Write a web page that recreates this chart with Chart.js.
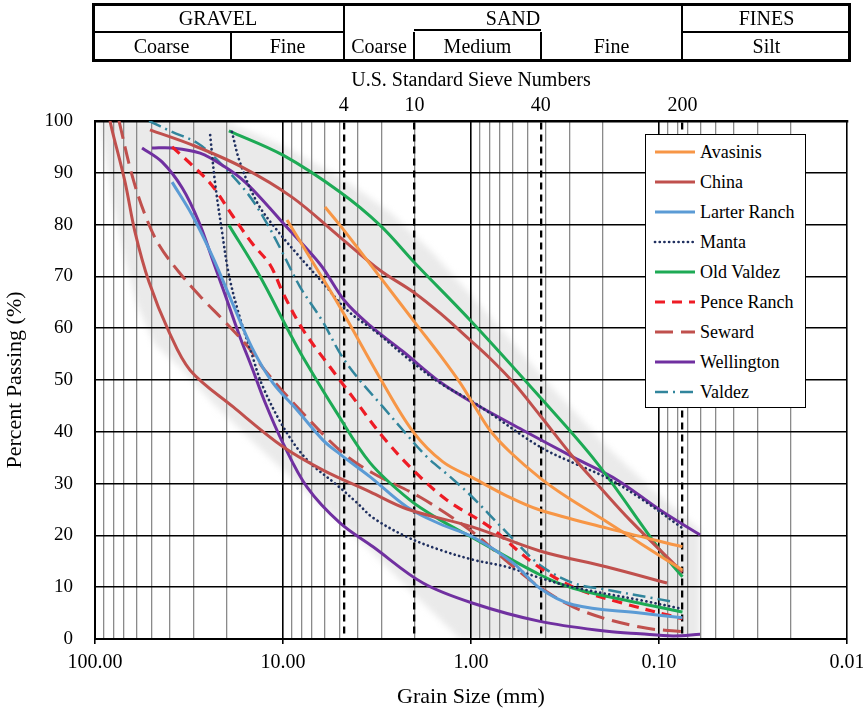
<!DOCTYPE html>
<html><head><meta charset="utf-8">
<script src="https://cdn.jsdelivr.net/npm/chart.js@4.4.0/dist/chart.umd.min.js"></script>
<style>
html,body{margin:0;padding:0;background:#fff;}
#wrap{position:relative;width:863px;height:715px;overflow:hidden;font-family:"Liberation Serif","Times New Roman",serif;color:#000;}
canvas{position:absolute;left:0;top:0;}
.cell{position:absolute;display:flex;align-items:center;justify-content:center;font-size:20px;line-height:20px;white-space:nowrap;}
.hl{position:absolute;background:#000;}
#legend{position:absolute;left:645px;top:134px;width:161px;height:274px;border:1.5px solid #000;background:#fff;box-sizing:border-box;font-size:18px;}
.li{position:absolute;left:0;height:30px;display:flex;align-items:center;white-space:nowrap;}
.li svg{margin-left:7px;margin-right:3px;}
</style></head>
<body><div id="wrap"><canvas id="c" width="863" height="715"></canvas><div id="table"></div><div id="legend"></div></div>
<script>
// ---- data (grain size mm, percent passing) ----
const avasinis1_d = [5.98,4.98,3.05,1.94,1.46,1.14,0.952,0.793,0.620,0.430,0.309,0.189,0.126,0.075];
const avasinis1_p = [83.4,79.9,69.9,60.6,54.8,49.4,44.8,40.3,36.1,31.1,27.4,22.6,18.5,13.3];
const avasinis2_d = [9.52,7.18,4.98,3.05,2.03,1.41,0.976,0.643,0.430,0.189,0.075];
const avasinis2_p = [80.9,73.6,64.1,50.4,40.0,34.2,31.1,27.6,24.9,21.4,17.8];
const china1_d = [83.2,81.2,69.2,61.3,51.6,40.4,31.2,18.4,10.0,6.13,3.44,2.19,0.976,0.430,0.189,0.0907];
const china1_p = [100,98.3,88.2,78.6,68.9,59.3,51.9,44.8,37.1,32.6,28.4,25.1,21.6,17.0,13.9,10.8];
const china2_d = [51.0,30.5,16.5,8.96,4.98,3.05,2.03,1.46,1.01,0.793,0.598,0.430,0.286,0.206,0.143,0.075];
const china2_p = [98.3,95.4,91.1,85.3,77.6,71.2,67.0,62.9,57.7,54.2,49.6,43.2,35.1,29.3,23.0,12.9];
const larter_d = [38.9,30.5,23.9,18.7,14.6,11.4,8.42,6.13,4.98,3.44,2.19,1.46,0.976,0.598,0.430,0.286,0.126,0.075];
const larter_p = [88.2,81.9,74.1,65.1,56.2,49.6,44.2,38.4,35.7,31.3,25.5,22.2,19.7,14.7,9.8,6.6,5.0,4.1];
const manta1_d = [24.4,23.0,21.1,19.4,17.1,14.6,12.9,9.88,7.45,5.16,4.04,3.32,2.19,1.46,0.976,0.643,0.430,0.286,0.126,0.075];
const manta1_p = [97.3,88.2,78.6,70.3,62.5,54.8,49.0,40.7,34.6,29.7,26.3,23.4,19.7,17.2,15.3,13.9,11.8,10.0,7.5,5.8];
const manta2_d = [18.7,16.9,13.7,10.8,8.12,5.98,4.57,3.16,2.03,1.46,1.01,0.793,0.430,0.286,0.189,0.126,0.075];
const manta2_p = [97.9,91.9,84.2,79.0,73.7,68.3,63.5,59.1,53.3,49.4,46.1,43.6,37.1,34.0,31.1,27.2,21.4];
const oldValdez1_d = [19.4,10.0,4.98,3.05,1.99,0.99,0.43,0.214,0.099,0.075];
const oldValdez1_p = [98.1,93.4,86.3,79.9,72.6,61.2,46.7,34.0,17.2,12.0];
const oldValdez2_d = [19.4,13.4,9.29,7.83,5.16,3.44,2.11,1.46,0.976,0.43,0.286,0.126,0.075];
const oldValdez2_p = [79.9,70.3,59.3,54.4,43.6,34.0,26.8,23.0,19.5,12.4,9.8,6.9,5.2];
const pence_d = [38.9,30.5,23.9,18.7,14.6,11.7,10.0,7.83,5.62,4.04,2.94,2.03,1.34,0.793,0.468,0.286,0.155,0.075];
const pence_p = [95.0,91.5,87.6,81.9,76.4,72.2,66.8,59.7,52.5,45.6,39.0,32.6,26.8,21.6,14.7,10.0,6.9,3.9];
const seward_d = [74.5,63.6,54.2,45.7,35.7,27.0,20.3,15.2,12.5,8.12,4.80,3.32,1.87,1.01,0.659,0.430,0.263,0.126,0.075];
const seward_p = [100,89.6,81.9,76.1,70.8,65.8,61.2,56.2,51.9,44.2,35.9,32.0,27.4,21.0,15.3,10.0,5.6,2.3,1.4];
const wellington1_d = [49.8,38.9,27.6,20.3,15.9,11.9,10.0,6.36,4.68,3.44,2.30,1.46,0.976,0.529,0.286,0.167,0.0988,0.0605];
const wellington1_p = [94.8,94.8,93.8,91.1,88.2,83.4,80.3,72.4,65.2,60.5,55.5,49.6,45.6,40.3,35.1,30.7,24.9,20.1];
const wellington2_d = [56.2,44.0,34.4,28.0,23.9,20.3,17.1,14.6,12.5,10.0,7.45,4.98,3.32,1.80,0.976,0.430,0.189,0.126,0.0842,0.0605];
const wellington2_p = [94.8,92.1,87.1,80.5,73.6,66.4,58.7,52.3,45.8,37.8,29.3,22.4,17.8,10.8,6.9,3.4,1.5,1.0,0.6,0.9];
const valdez_d = [51.6,38.9,28.7,22.4,15.5,12.2,10.1,8.12,6.13,4.98,4.04,2.94,2.30,1.71,1.29,1.01,0.643,0.430,0.286,0.189,0.108,0.0874];
const valdez_p = [100,97.9,95.8,92.5,86.1,80.3,74.7,68.0,61.2,55.2,50.6,44.8,40.3,35.1,31.3,27.8,20.5,14.3,10.8,9.5,7.9,7.3];

// grey envelope band (mm, %)
const band_d = [94.1,20.3,10.0,4.68,2.70,1.65,0.896,0.380,0.189,0.108,0.0605,0.0605,1.14,1.87,3.44,10.0,19.1,24.4,34.0,48.0,59.8,69.2,81.2];
const band_p = [100,100,95.2,88.6,82.4,75.1,64.5,49.0,37.1,28.8,21.0,0,0,7.5,17.2,32.6,42.3,46.1,51.9,56.8,64.5,73.2,84.7];

// axis ticks
const xTickValues = [100,10,1,0.1,0.01];
const xTickLabels = ['100.00','10.00','1.00','0.10','0.01'];
const sieveSizes = [4.75,2.0,0.425,0.075];
const sieveLabels = ['4','10','40','200'];
const yTickStep = 10;

// classification table
const groupNames = ['GRAVEL','SAND','FINES'];
const groupBounds = [4.75,0.075];
const subNames = ['Coarse','Fine','Coarse','Medium','Fine','Silt'];
const subBounds = [19,4.75,2.0,0.425,0.075];

// ---- styles ----
const seriesDefs = [
  {name:'Avasinis', d:avasinis1_d, p:avasinis1_p, color:'#F79646', dash:[], width:3, legend:true},
  {name:'Avasinis', d:avasinis2_d, p:avasinis2_p, color:'#F79646', dash:[], width:3, legend:false},
  {name:'China', d:china1_d, p:china1_p, color:'#C0504D', dash:[], width:3, legend:true},
  {name:'China', d:china2_d, p:china2_p, color:'#C0504D', dash:[], width:3, legend:false},
  {name:'Larter Ranch', d:larter_d, p:larter_p, color:'#5B9BD5', dash:[], width:3, legend:true},
  {name:'Manta', d:manta1_d, p:manta1_p, color:'#1F2F5F', dash:[0.1,4.6], width:2.7, cap:'round', legend:true},
  {name:'Manta', d:manta2_d, p:manta2_p, color:'#1F2F5F', dash:[0.1,4.6], width:2.7, cap:'round', legend:false},
  {name:'Old Valdez', d:oldValdez1_d, p:oldValdez1_p, color:'#1DAA55', dash:[], width:3, legend:true},
  {name:'Old Valdez', d:oldValdez2_d, p:oldValdez2_p, color:'#1DAA55', dash:[], width:3, legend:false},
  {name:'Pence Ranch', d:pence_d, p:pence_p, color:'#EE1C25', dash:[10,7], width:3.2, legend:true},
  {name:'Seward', d:seward_d, p:seward_p, color:'#C0504D', dash:[18,8], width:3, legend:true},
  {name:'Wellington', d:wellington1_d, p:wellington1_p, color:'#7030A0', dash:[], width:3, legend:true},
  {name:'Wellington', d:wellington2_d, p:wellington2_p, color:'#7030A0', dash:[], width:3, legend:false},
  {name:'Valdez', d:valdez_d, p:valdez_p, color:'#31859C', dash:[13,5,2,5], width:2.5, legend:true}
];

const gridVals = [];
for (let e = -2; e < 2; e++) { for (let m = 1; m < 10; m++) gridVals.push(+(m * Math.pow(10, e)).toPrecision(3)); }
gridVals.push(100);
const near = (a,b) => Math.abs(Math.log10(a) - Math.log10(b)) < 1e-6;
const isDecade = v => xTickValues.some(t => near(t, v));
const FONT = 'Liberation Serif';

const bandPlugin = {
  id:'band',
  beforeDraw(chart){
    const {ctx, chartArea:a, scales:{x, y}} = chart;
    ctx.save();
    ctx.beginPath(); ctx.rect(a.left, a.top, a.right-a.left, a.bottom-a.top); ctx.clip();
    ctx.filter = 'blur(3px)';
    ctx.fillStyle = '#eaeaea';
    ctx.beginPath();
    band_d.forEach((d,i) => {
      const px = x.getPixelForValue(d), py = y.getPixelForValue(band_p[i]);
      if (i) ctx.lineTo(px, py); else ctx.moveTo(px, py);
    });
    ctx.closePath(); ctx.fill();
    ctx.restore();
  }
};

const chart = new Chart(document.getElementById('c'), {
  type:'scatter',
  data:{datasets: seriesDefs.map(s => ({
    label:s.name,
    data:s.d.map((d,i) => ({x:d, y:s.p[i]})),
    showLine:true, fill:false,
    borderColor:s.color, backgroundColor:s.color,
    borderWidth:s.width, borderDash:s.dash, borderCapStyle:s.cap || 'butt',
    pointRadius:0, pointHoverRadius:0,
    tension:0.35,
    xAxisID:'x', yAxisID:'y'
  }))},
  options:{
    responsive:false, animation:false, devicePixelRatio:1,
    layout:{padding:{top:62, left:0, right:16, bottom:0}},
    plugins:{legend:{display:false}, tooltip:{enabled:false}},
    scales:{
      x:{
        type:'logarithmic', position:'bottom', reverse:true, min:0.01, max:100,
        afterBuildTicks:s => { s.ticks = gridVals.map(v => ({value:v})); },
        afterFit:s => { s.height = 76; s.paddingLeft = 0; s.paddingRight = 0; },
        ticks:{autoSkip:false, maxRotation:0, minRotation:0, padding:7, color:'#000',
          font:{family:FONT, size:20},
          callback:v => { const i = xTickValues.findIndex(t => near(t, v)); return i >= 0 ? xTickLabels[i] : ''; }},
        grid:{
          color:c => (c.tick && isDecade(c.tick.value)) ? '#000' : '#8a8a8a',
          lineWidth:c => (c.tick && isDecade(c.tick.value)) ? 1.6 : 1.3,
          drawTicks:true, tickLength:5,
          tickColor:c => (c.tick && isDecade(c.tick.value)) ? '#000' : 'rgba(0,0,0,0)'
        },
        border:{color:'#000', width:2},
        title:{display:true, text:'Grain Size (mm)', color:'#000', font:{family:FONT, size:22}, padding:{top:0, bottom:5}}
      },
      xs:{
        type:'logarithmic', position:'top', reverse:true, min:0.01, max:100,
        afterBuildTicks:s => { s.ticks = sieveSizes.map(v => ({value:v})); },
        afterFit:s => { s.height = 59; s.paddingLeft = 0; s.paddingRight = 0; },
        ticks:{autoSkip:false, maxRotation:0, minRotation:0, padding:3, color:'#000',
          font:{family:FONT, size:20},
          callback:v => { const i = sieveSizes.findIndex(t => near(t, v)); return i >= 0 ? sieveLabels[i] : ''; }},
        grid:{color:'#000', lineWidth:2.3, drawTicks:false, drawOnChartArea:true},
        border:{display:true, color:'#000', width:2.5, dash:[7,5]},
        title:{display:true, text:'U.S. Standard Sieve Numbers', color:'#000', font:{family:FONT, size:20}, padding:{top:7, bottom:0}}
      },
      y:{
        type:'linear', position:'left', min:0, max:100,
        afterFit:s => { s.width = 95; s.paddingTop = 0; s.paddingBottom = 0; },
        ticks:{stepSize:yTickStep, padding:22, color:'#000', font:{family:FONT, size:19}},
        grid:{color:'#000', lineWidth:1.5, drawTicks:false},
        border:{color:'#000', width:2},
        title:{display:true, text:'Percent Passing (%)', color:'#000', font:{family:FONT, size:22}, padding:{top:2, bottom:0}}
      }
    }
  },
  plugins:[bandPlugin]
});

// ---- classification table (positions from the chart's x scale) ----
(function buildTable(){
  const xs = chart.scales.x;
  const px = v => Math.round(xs.getPixelForValue(v));
  const L = 92, R = 851, y0 = 4, y1 = 32, y2 = 60;
  const t = document.getElementById('table');
  const line = (x, y, w, h) => { const e = document.createElement('div'); e.className = 'hl';
    Object.assign(e.style, {left:x+'px', top:y+'px', width:w+'px', height:h+'px'}); t.appendChild(e); };
  const cell = (xa, xb, ya, yb, txt) => { const e = document.createElement('div'); e.className = 'cell';
    Object.assign(e.style, {left:xa+'px', top:ya+'px', width:(xb-xa)+'px', height:(yb-ya)+'px'}); e.textContent = txt; t.appendChild(e); };
  const gB = [L, ...groupBounds.map(px), R];
  groupNames.forEach((n,i) => cell(gB[i], gB[i+1], y0, y1, n));
  const sB = [L, ...subBounds.map(px), R];
  subNames.forEach((n,i) => cell(sB[i], sB[i+1], y1, y2, n));
  line(L, y0-1, R-L, 3); line(L, y2-1, R-L, 3); line(L, y0-1, 3, y2-y0+2); line(R-3, y0-1, 3, y2-y0+2);
  groupBounds.forEach(v => line(px(v)-1, y0, 2, y2-y0));
  [subBounds[0], subBounds[2], subBounds[3]].forEach(v => line(px(v)-1, y1, 2, y2-y1));
  line(L, y1-1, px(groupBounds[0])-L, 2);
  line(px(subBounds[2]), y1-3, px(subBounds[3])-px(subBounds[2]), 2);
  line(px(groupBounds[1]), y1-1, R-px(groupBounds[1]), 2);
})();

// ---- legend (from dataset styles) ----
(function buildLegend(){
  const lg = document.getElementById('legend');
  seriesDefs.filter(s => s.legend).forEach((s,i) => {
    const row = document.createElement('div'); row.className = 'li'; row.style.top = (2 + i*30) + 'px';
    const dash = s.dash.length ? s.dash.join(' ') : 'none';
    row.innerHTML = '<svg width="44" height="10"><line x1="2" y1="5" x2="42" y2="5" stroke="' + s.color +
      '" stroke-width="' + s.width + '" stroke-dasharray="' + dash + '" stroke-linecap="' + (s.cap || 'butt') + '"/></svg><span>' + s.name + '</span>';
    lg.appendChild(row);
  });
})();
</script>
</body></html>
